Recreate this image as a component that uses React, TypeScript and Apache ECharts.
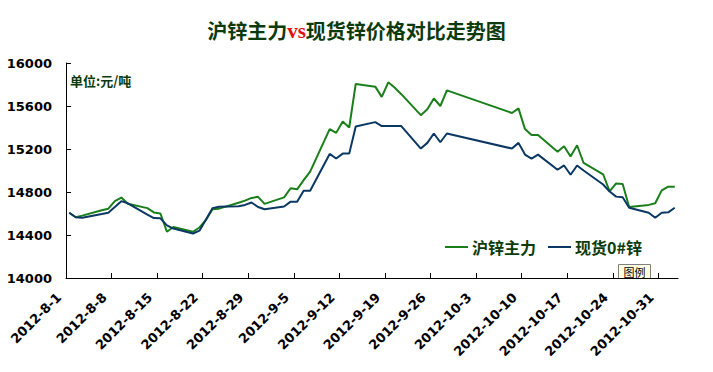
import React, { useEffect, useRef } from "react";
import * as echarts from "echarts";

const titleParts = ["沪锌主力", "vs", "现货锌价格对比走势图"];
const unitText = "单位:元/吨";
const seriesNames = ["沪锌主力", "现货0#锌"];
const legendNote = "图例";

const tickLabels = [
  "2012-8-1", "2012-8-8", "2012-8-15", "2012-8-22", "2012-8-29", "2012-9-5", "2012-9-12",
  "2012-9-19", "2012-9-26", "2012-10-3", "2012-10-10", "2012-10-17", "2012-10-24", "2012-10-31",
];

const dates = [
  "2012-8-1", "2012-8-2", "2012-8-3", "2012-8-6", "2012-8-7", "2012-8-8", "2012-8-9", "2012-8-10",
  "2012-8-13", "2012-8-14", "2012-8-15", "2012-8-16", "2012-8-17",
  "2012-8-20", "2012-8-21", "2012-8-22", "2012-8-23", "2012-8-24",
  "2012-8-27", "2012-8-28", "2012-8-29", "2012-8-30", "2012-8-31",
  "2012-9-3", "2012-9-4", "2012-9-5", "2012-9-6", "2012-9-7",
  "2012-9-10", "2012-9-11", "2012-9-12", "2012-9-13", "2012-9-14",
  "2012-9-17", "2012-9-18", "2012-9-19", "2012-9-20", "2012-9-21",
  "2012-9-24", "2012-9-25", "2012-9-26", "2012-9-27", "2012-9-28",
  "2012-10-8", "2012-10-9", "2012-10-10", "2012-10-11", "2012-10-12",
  "2012-10-15", "2012-10-16", "2012-10-17", "2012-10-18", "2012-10-19",
  "2012-10-22", "2012-10-23", "2012-10-24", "2012-10-25", "2012-10-26",
  "2012-10-29", "2012-10-30", "2012-10-31", "2012-11-1", "2012-11-2",
];

const futures = [
  14607, 14565, 14580, 14630, 14645, 14715, 14748, 14690,
  14650, 14610, 14600, 14430, 14475,
  14430, 14470, 14540, 14640, 14645,
  14700, 14720, 14745, 14755, 14690,
  14750, 14835, 14825, 14910, 14990,
  15385, 15350, 15455, 15400, 15805,
  15780, 15685, 15820, 15770, 15710,
  15515, 15570, 15670, 15600, 15745,
  15535, 15578, 15385, 15330, 15330,
  15175, 15225, 15130, 15235, 15070,
  14965, 14805, 14880, 14875, 14660,
  14680, 14695, 14815, 14850, 14850,
];

const spot = [
  14607, 14565, 14560, 14595, 14607, 14660, 14715, 14695,
  14590, 14558, 14555, 14490, 14460,
  14414, 14440, 14545, 14650, 14663,
  14668, 14680, 14702, 14660, 14640,
  14665, 14710, 14710, 14812, 14812,
  15154, 15112, 15157, 15157, 15410,
  15450, 15413, 15413, 15413, 15413,
  15204, 15257, 15344, 15263, 15344,
  15204, 15257, 15148, 15110, 15148,
  15007, 15047, 14960, 15047, 15000,
  14870, 14804, 14757, 14751, 14654,
  14607, 14560, 14607, 14611, 14654,
];

const yMin = 14000;
const yMax = 16000;
const yStep = 400;
const axisStartDate = "2012-8-1";
const axisEndDate = "2012-11-4";

function dayIndex(s: string): number {
  const [y, m, d] = s.split("-").map(Number);
  const [y0, m0, d0] = axisStartDate.split("-").map(Number);
  return Math.round((Date.UTC(y, m - 1, d) - Date.UTC(y0, m0 - 1, d0)) / 86400000);
}

export default function App() {
  const ref = useRef<HTMLDivElement>(null);
  useEffect(() => {
    document.body.style.margin = "0";
    if (!ref.current) return;
    const chart = echarts.init(ref.current, undefined, { renderer: "svg" });
    const tickVals = tickLabels.map(dayIndex);
    const green = "#1a7f1a";
    const navy = "#0b3863";
    const textGreen = "#0c3a0c";
    const option: any = {
      animation: false,
      backgroundColor: "#ffffff",
      title: {
        text: `{a|${titleParts[0]}}{b|${titleParts[1]}}{a|${titleParts[2]}}`,
        left: "center",
        top: 15,
        textStyle: {
          rich: {
            a: { fontFamily: "Noto Sans CJK SC", fontWeight: "bold", fontSize: 20, color: textGreen },
            b: { fontFamily: "Liberation Serif", fontWeight: "bold", fontSize: 21, color: "#e01010" },
          },
        },
      },
      graphic: [
        {
          type: "text",
          left: 70,
          top: 74,
          style: {
            text: unitText,
            fontFamily: "Noto Sans CJK SC",
            fontWeight: "bold",
            fontSize: 13,
            fill: textGreen,
          },
        },
        {
          type: "group",
          left: 618,
          top: 264,
          children: [
            { type: "rect", shape: { x: 0, y: 0, width: 32, height: 14 }, style: { fill: "#ffffe1", stroke: "#808080", lineWidth: 1 } },
            {
              type: "text",
              style: { x: 16, y: 7, text: legendNote, align: "center", verticalAlign: "middle", fontFamily: "Noto Sans CJK SC", fontSize: 11, fill: "#000" },
            },
          ],
        },
      ],
      legend: {
        left: 445,
        top: 239,
        padding: 0,
        icon: "rect",
        itemWidth: 23,
        itemHeight: 2,
        itemGap: 12,
        data: seriesNames,
        textStyle: { fontFamily: "Noto Sans CJK SC", fontWeight: "bold", fontSize: 16, color: textGreen, padding: [0, 0, 0, -1] },
      },
      grid: { left: 66, right: 35, top: 63, bottom: 94, containLabel: false },
      xAxis: {
        type: "value",
        min: 0,
        max: dayIndex(axisEndDate) - 1,
        interval: 7,
        axisLine: { lineStyle: { color: "#000", width: 1 } },
        axisTick: { inside: true, length: 5, lineStyle: { color: "#000" }, customValues: tickVals },
        splitLine: { show: false },
        axisLabel: {
          customValues: tickVals,
          rotate: 45,
          margin: 10,
          padding: [0, 10, 0, 0],
          fontFamily: "DejaVu Sans",
          fontWeight: "bold",
          fontSize: 13,
          color: "#000",
          formatter: (v: number) => {
            const i = tickVals.indexOf(Math.round(v));
            return i >= 0 ? tickLabels[i] : "";
          },
        },
      },
      yAxis: {
        type: "value",
        min: yMin,
        max: yMax,
        interval: yStep,
        axisLine: { show: true, lineStyle: { color: "#000", width: 1 } },
        axisTick: { show: true, inside: true, length: 5, lineStyle: { color: "#000" } },
        splitLine: { show: false },
        axisLabel: {
          margin: 14,
          fontFamily: "DejaVu Sans",
          fontWeight: "bold",
          fontSize: 13,
          color: "#000",
          formatter: (v: number) => String(v),
        },
      },
      series: [
        {
          name: seriesNames[0],
          type: "line",
          data: dates.map((d, i) => [dayIndex(d) + 0.5, futures[i]]),
          showSymbol: false,
          symbol: "none",
          lineStyle: { color: green, width: 2 },
          itemStyle: { color: green },
        },
        {
          name: seriesNames[1],
          type: "line",
          data: dates.map((d, i) => [dayIndex(d) + 0.5, spot[i]]),
          showSymbol: false,
          symbol: "none",
          lineStyle: { color: navy, width: 2 },
          itemStyle: { color: navy },
        },
      ],
    };
    chart.setOption(option);
    return () => chart.dispose();
  }, []);
  return <div ref={ref} style={{ width: 713, height: 372 }} />;
}
